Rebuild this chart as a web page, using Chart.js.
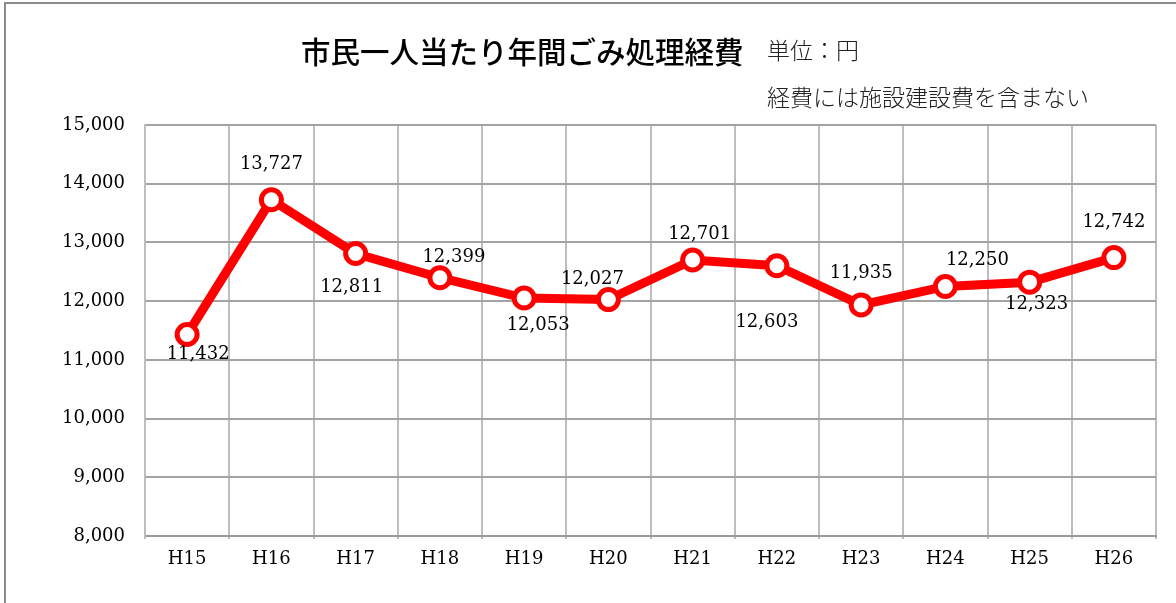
<!DOCTYPE html>
<html><head><meta charset="utf-8">
<script src="https://cdn.jsdelivr.net/npm/chart.js@4/dist/chart.umd.min.js"></script>
<style>
html,body{margin:0;padding:0;background:#fff;overflow:hidden;}
#wrap{position:absolute;left:0;top:0;width:1176px;height:603px;}
#frame{position:absolute;left:4px;top:2px;width:1300px;height:700px;border-top:2px solid #8c8c8c;border-left:2px solid #8c8c8c;}
canvas{position:absolute;left:0;top:0;}
</style></head><body>
<div id="wrap"><div id="frame"></div><canvas id="c" width="1176" height="603"></canvas></div>
<script>
const categories = ['H15','H16','H17','H18','H19','H20','H21','H22','H23','H24','H25','H26'];
const costs = [11432, 13727, 12811, 12399, 12053, 12027, 12701, 12603, 11935, 12250, 12323, 12742];
const yTicks = [8000, 9000, 10000, 11000, 12000, 13000, 14000, 15000];
const titleText = '市民一人当たり年間ごみ処理経費';
const unitText = '単位：円';
const noteText = '経費には施設建設費を含まない';
// label placement offsets (pixels) relative to each point
const labelOffsets = [[11,20],[0,-35],[-4,34],[14,-20],[14,27],[-16,-20],[7,-26],[-10,57],[0,-32],[32,-26],[7,22],[0,-35]];

const serif = '"DejaVu Serif", serif';
const cjk = '"Noto Sans CJK JP", sans-serif';

const textPlugin = {
  id: 'texts',
  afterDatasetsDraw(chart) {
    const ctx = chart.ctx;
    const meta = chart.getDatasetMeta(0);
    ctx.save();
    ctx.fillStyle = '#000';
    ctx.font = '18px ' + serif;
    ctx.textAlign = 'center';
    ctx.textBaseline = 'middle';
    meta.data.forEach((pt, i) => {
      const o = labelOffsets[i];
      ctx.fillText(costs[i].toLocaleString('en-US'), pt.x + o[0], pt.y + o[1]);
    });
    ctx.restore();
  },
  afterDraw(chart) {
    const ctx = chart.ctx;
    ctx.save();
    ctx.fillStyle = '#000';
    ctx.textBaseline = 'middle';
    ctx.textAlign = 'left';
    ctx.font = '500 29.5px ' + cjk;
    ctx.fillText(titleText, 301, 52);
    ctx.font = '300 23px ' + cjk;
    ctx.fillStyle = '#222';
    ctx.fillText(unitText, 767, 50);
    ctx.fillText(noteText, 767, 97);
    ctx.restore();
  }
};

new Chart(document.getElementById('c'), {
  type: 'line',
  data: {
    labels: categories,
    datasets: [{
      data: costs,
      borderColor: '#ff0000',
      borderWidth: 9,
      pointRadius: 10,
      pointBorderWidth: 5,
      pointBackgroundColor: '#ffffff',
      pointBorderColor: '#ff0000',
      tension: 0
    }]
  },
  options: {
    responsive: false,
    animation: false,
    devicePixelRatio: 1,
    layout: { padding: { left: 0, right: 20, top: 125, bottom: 0 } },
    plugins: { legend: { display: false }, tooltip: { enabled: false } },
    scales: {
      x: {
        offset: true,
        grid: { offset: true, color: '#bdbdbd', lineWidth: 2, drawTicks: true, tickLength: 3 },
        border: { color: '#9a9a9a', width: 2 },
        ticks: { color: '#000', font: { family: serif, size: 18 }, padding: 10 },
        afterFit(s) { s.height = 67; }
      },
      y: {
        min: 8000, max: 15000,
        afterBuildTicks(s) { s.ticks = yTicks.map(v => ({ value: v })); },
        grid: { color: '#a3a3a3', lineWidth: 2, drawTicks: false },
        border: { color: '#bdbdbd', width: 2 },
        ticks: { color: '#000', font: { family: serif, size: 18 }, padding: 20,
          callback: v => Number(v).toLocaleString('en-US') },
        afterFit(s) { s.width = 145; }
      }
    }
  },
  plugins: [textPlugin]
});
</script>
</body></html>
